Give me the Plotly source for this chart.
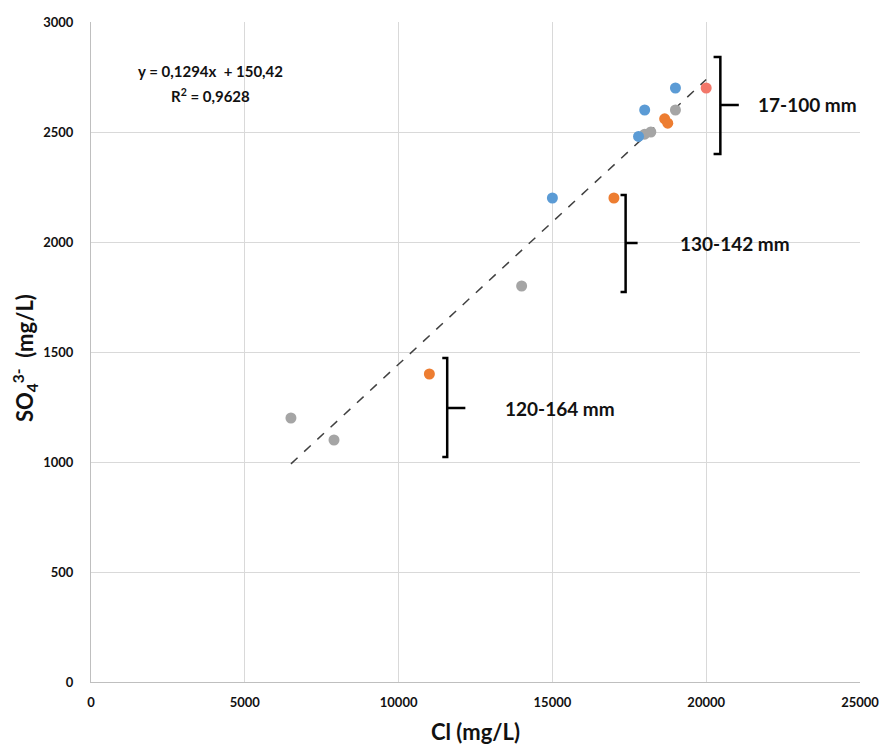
import plotly.graph_objects as go

# Data
blue_x = [15000, 18000, 19000, 17800]
blue_y = [2200, 2600, 2700, 2480]
orange_x = [11000, 17000, 18650, 18750]
orange_y = [1400, 2200, 2560, 2540]
red_x = [20000]
red_y = [2700]
gray_x = [6500, 7900, 14000, 18000, 18200, 19000]
gray_y = [1200, 1100, 1800, 2490, 2500, 2600]

slope = 0.1294
intercept = 150.42
trend_x = [6500, 20000]
trend_y = [slope * v + intercept for v in trend_x]

x_ticks = [0, 5000, 10000, 15000, 20000, 25000]
y_ticks = [0, 500, 1000, 1500, 2000, 2500, 3000]

groups = [
    # label, x_hook, x_bar, x_mid_end, y_top, y_bot, y_mid, text_x
    ("17-100 mm", 20240, 20460, 21060, 2841, 2400, 2623, 23300),
    ("130-142 mm", 17215, 17380, 17770, 2214, 1773, 1995, 20930),
    ("120-164 mm", 11420, 11580, 12170, 1473, 1023, 1245, 15260),
]

W, H = 882, 747
L, R, T, B = 91, 22, 22, 65

fig = go.Figure()
fig.add_trace(go.Scatter(x=trend_x, y=trend_y, mode="lines",
                         line=dict(color="#404040", width=1.5, dash="dash"),
                         showlegend=False, hoverinfo="skip"))
for xs, ys, col in [(gray_x, gray_y, "#A5A5A5"), (blue_x, blue_y, "#5B9BD5"),
                    (orange_x, orange_y, "#ED7D31"), (red_x, red_y, "#F2776A")]:
    fig.add_trace(go.Scatter(x=xs, y=ys, mode="markers",
                             marker=dict(color=col, size=11),
                             showlegend=False))

for label, xh, xb, xm, yt, yb, ym, tx in groups:
    path = f"M {xh},{yt} L {xb},{yt} L {xb},{yb} L {xh},{yb} M {xb},{ym} L {xm},{ym}"
    fig.add_shape(type="path", path=path, xref="x", yref="y",
                  line=dict(color="black", width=2.5))
    fig.add_annotation(x=tx, y=ym, xref="x", yref="y", text=f"<b>{label}</b>",
                       showarrow=False, font=dict(size=19, color="#111111", family="Lato"))

fig.add_annotation(x=3870, y=2777, xref="x", yref="y",
                   text="<b>y = 0,1294x  + 150,42</b>",
                   showarrow=False, xanchor="center", yanchor="middle",
                   font=dict(size=15, color="#111111", family="Lato"))
fig.add_annotation(x=3870, y=2668, xref="x", yref="y",
                   text="<b>R<sup>2</sup> = 0,9628</b>",
                   showarrow=False, xanchor="center", yanchor="middle",
                   font=dict(size=15, color="#111111", family="Lato"))

# axis titles as paper annotations
fig.add_annotation(x=(475 - L) / (W - L - R), y=(H - B - 731) / (H - T - B),
                   xref="paper", yref="paper", text="<b>Cl (mg/L)</b>",
                   xanchor="center", yanchor="middle",
                   showarrow=False, font=dict(size=22, color="#111111", family="Lato"))
fig.add_annotation(x=(25 - L) / (W - L - R), y=(H - B - 358) / (H - T - B),
                   xref="paper", yref="paper", textangle=-90,
                   xanchor="center", yanchor="middle",
                   text="<b>SO<sub>4</sub><sup>3-</sup>  (mg/L)</b>",
                   showarrow=False, font=dict(size=22, color="#111111", family="Lato"))

fig.update_layout(
    width=W, height=H,
    margin=dict(l=L, r=R, t=T, b=B, autoexpand=False),
    plot_bgcolor="white", paper_bgcolor="white",
    font=dict(family="Lato", color="#111111"),
)
fig.update_xaxes(range=[0, 25000], tickvals=x_ticks, ticktext=[f"<b>{v}</b>" for v in x_ticks],
                 showgrid=True, gridcolor="#D9D9D9", gridwidth=1, automargin=False,
                 showline=True, linecolor="#BFBFBF", zeroline=False,
                 ticks="", ticklabelstandoff=8, tickfont=dict(size=13, family="Lato"))
fig.update_yaxes(range=[0, 3000], tickvals=y_ticks, ticktext=[f"<b>{v}</b>" for v in y_ticks],
                 showgrid=True, gridcolor="#D9D9D9", gridwidth=1, automargin=False,
                 showline=True, linecolor="#BFBFBF", zeroline=False,
                 ticks="", ticklabelstandoff=14, tickfont=dict(size=13, family="Lato"))

fig.write_html("out.html", config={"displayModeBar": False},
               post_script="document.body.style.margin='0';document.body.style.overflow='hidden';")
